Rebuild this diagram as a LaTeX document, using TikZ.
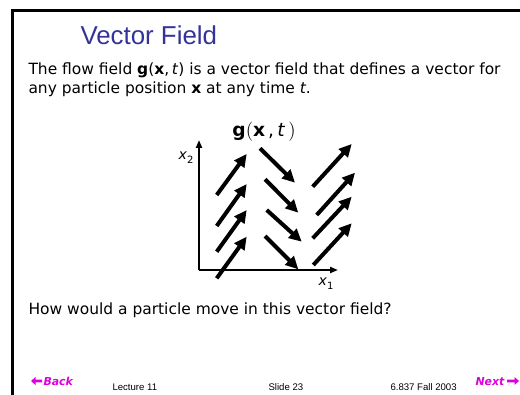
\documentclass[tikz,border=0pt]{standalone}
\usepackage{fontspec}
\setmainfont{DejaVu Sans}
\newfontfamily\titlefont{Liberation Sans}
\usetikzlibrary{arrows.meta}
\definecolor{slideblue}{RGB}{51,51,153}
\definecolor{navpink}{RGB}{220,0,220}
\tikzset{every picture/.style={line width=0.75pt}}
\tikzset{
  fieldarrow/.style={line width=3pt, -{Triangle[length=9.5pt,width=9pt]}},
  axisline/.style={line width=1.5pt, -{Triangle[length=6pt,width=4.5pt]}},
  bodytext/.style={anchor=base west, inner sep=0pt, font=\fontsize{11.6}{13}\selectfont},
  foottext/.style={anchor=base west, inner sep=0pt, font=\titlefont\fontsize{7.2}{9}\selectfont},
  navtext/.style={anchor=base west, inner sep=0pt, text=navpink, font=\fontsize{8.2}{9}\selectfont\bfseries\itshape}
}

\begin{document}
\begin{tikzpicture}[x=0.75pt,y=0.75pt,yscale=-1,xscale=1]
\useasboundingbox (0,0) rectangle (520,395);

%Shape: Frame
\draw [line width=2.25pt] (12,396) -- (12,10.5) -- (521,10.5) ;

%Title
\node [anchor=base west, inner sep=0pt, text=slideblue, font=\titlefont\fontsize{19.4}{21}\selectfont] (title) at (80,45) {Vector Field};

%Body text
\node [bodytext] (line1) at (28,75) {The flow field \textbf{g}(\textbf{x},\,\textit{t}) is a vector field that defines a vector for};
\node [bodytext] (line2) at (28,94) {any particle position \textbf{x} at any time \textit{t}.};
\node [bodytext] (question) at (28,314) {How would a particle move in this vector field?};

%Axes
\coordinate (origin) at (199,270);
\coordinate (x2end) at (199,140);
\coordinate (x1end) at (338,270);
\draw [axisline] (origin) -- (x2end) ;
\draw [axisline] (origin) -- (x1end) ;
\node [inner sep=0pt, font=\fontsize{10.5}{12}\selectfont] (x2label) at (186,158) {\textit{x}\raisebox{-0.5ex}{\fontsize{7.5}{8}\selectfont 2}};
\node [inner sep=0pt, font=\fontsize{10.5}{12}\selectfont] (x1label) at (326,284) {\textit{x}\raisebox{-0.5ex}{\fontsize{7.5}{8}\selectfont 1}};
\node [inner sep=0pt, font=\fontsize{14}{16}\selectfont] (glabel) at (264,132) {\textbf{g}$\bigl($\textbf{x}\,,\,\textit{t}\,$\bigr)$};

%Left column
\draw [fieldarrow] (216.7,195) -- (246.7,154) ;
\draw [fieldarrow] (216.7,226) -- (246.7,184) ;
\draw [fieldarrow] (216.7,251.7) -- (246.7,210) ;
\draw [fieldarrow] (216.7,278.3) -- (246.7,236.7) ;
%Middle column
\draw [fieldarrow] (260,148.3) -- (295,182.7) ;
\draw [fieldarrow] (265,179.3) -- (298.3,212.7) ;
\draw [fieldarrow] (266.7,210) -- (301.7,241.7) ;
\draw [fieldarrow] (265,236) -- (298.3,269.3) ;
%Right column
\draw [fieldarrow] (312.7,186.7) -- (351.7,144) ;
\draw [fieldarrow] (316.7,215) -- (355,172.7) ;
\draw [fieldarrow] (312.7,238.3) -- (351.7,196.7) ;
\draw [fieldarrow] (313.3,265) -- (351.7,223.3) ;

%Footer
\node [foottext] (lecture) at (112,390) {Lecture 11};
\node [foottext] (slide) at (268,390) {Slide 23};
\node [foottext] (course) at (390,390) {6.837 Fall 2003};

%Back button
\fill [navpink] (31,381) -- (35.5,377) -- (35.5,379.6) -- (42,379.6) -- (42,382.4) -- (35.5,382.4) -- (35.5,385) -- cycle ;
\node [navtext] (back) at (43,385.5) {Back};
%Next button
\node [navtext] (next) at (475,385.5) {Next};
\fill [navpink] (519,381) -- (514.5,377) -- (514.5,379.6) -- (507,379.6) -- (507,382.4) -- (514.5,382.4) -- (514.5,385) -- cycle ;
\end{tikzpicture}
\end{document}
